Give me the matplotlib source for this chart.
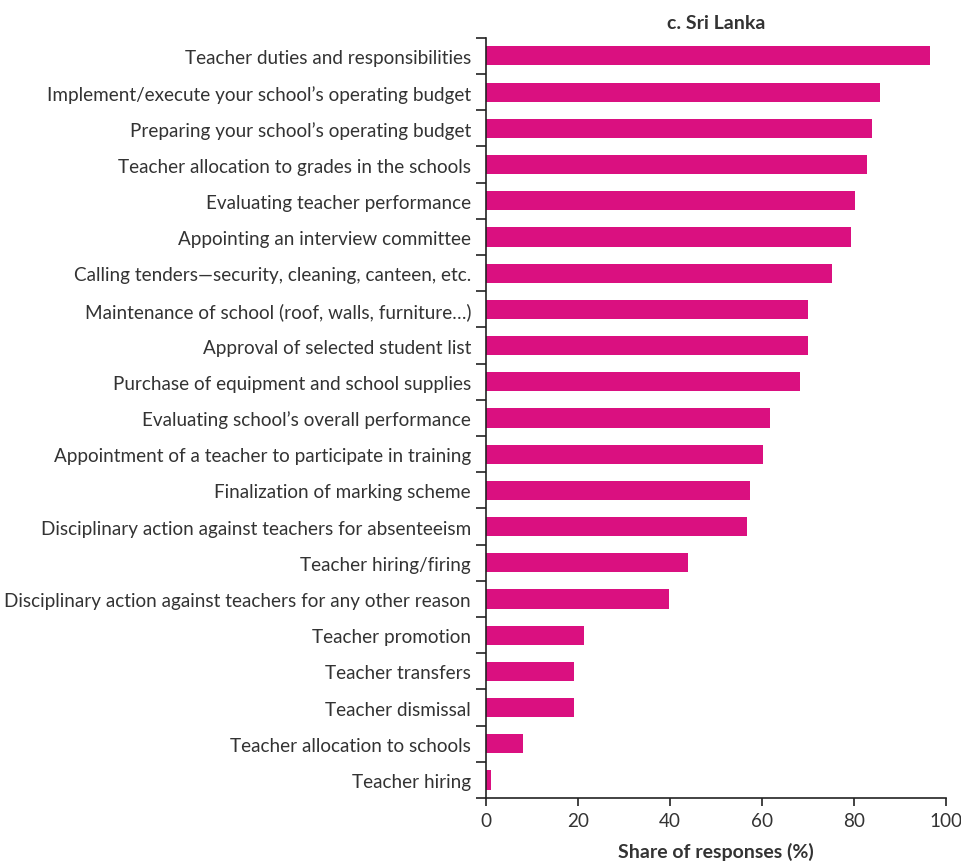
import matplotlib.pyplot as plt
import numpy as np

plt.rcParams["font.family"] = ["Lato", "DejaVu Sans"]

categories = [
    "Teacher duties and responsibilities",
    "Implement/execute your school\u2019s operating budget",
    "Preparing your school\u2019s operating budget",
    "Teacher allocation to grades in the schools",
    "Evaluating teacher performance",
    "Appointing an interview committee",
    "Calling tenders\u2014security, cleaning, canteen, etc.",
    "Maintenance of school (roof, walls, furniture\u2026)",
    "Approval of selected student list",
    "Purchase of equipment and school supplies",
    "Evaluating school\u2019s overall performance",
    "Appointment of a teacher to participate in training",
    "Finalization of marking scheme",
    "Disciplinary action against teachers for absenteeism",
    "Teacher hiring/firing",
    "Disciplinary action against teachers for any other reason",
    "Teacher promotion",
    "Teacher transfers",
    "Teacher dismissal",
    "Teacher allocation to schools",
    "Teacher hiring",
]
values = [96.5, 85.7, 84.0, 82.9, 80.3, 79.5, 75.2, 70.0, 70.0, 68.2,
          61.8, 60.2, 57.4, 56.8, 43.9, 39.8, 21.3, 19.2, 19.2, 8.0, 1.0]
xticks = [0, 20, 40, 60, 80, 100]

fig = plt.figure(figsize=(9.62, 8.62), dpi=100)
ax = fig.add_axes([0.5055, 0.073, 0.4775, 0.882])

y = np.arange(len(categories))
ax.barh(y, values, height=0.53, color="#DA1080")
ax.set_ylim(len(categories) - 0.5, -0.5)
ax.set_xlim(0, 100)

ax.set_yticks(y, categories, fontsize=13.6, color="#333333")
ax.tick_params(axis="y", length=0, pad=11)
ax.set_yticks(np.arange(-0.5, len(categories) + 0.5, 1), minor=True)
ax.tick_params(axis="y", which="minor", length=7, width=1.2, color="#222222")

ax.set_xticks(xticks, [str(t) for t in xticks], fontsize=13.6, color="#333333")
ax.tick_params(axis="x", length=6, width=1.2, color="#222222", pad=4)

for side in ["top", "right"]:
    ax.spines[side].set_visible(False)
for side in ["left", "bottom"]:
    ax.spines[side].set_linewidth(1.2)
    ax.spines[side].set_color("#222222")

ax.set_title("c. Sri Lanka", fontsize=14, fontweight="bold", color="#333333", pad=7)
ax.set_xlabel("Share of responses (%)", fontsize=14, fontweight="bold",
              color="#333333", labelpad=9)

fig.savefig("out.png", dpi=100)
